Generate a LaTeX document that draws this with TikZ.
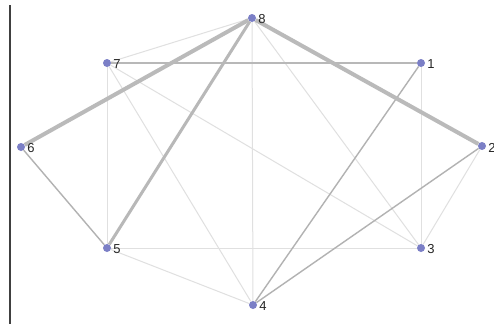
\documentclass[tikz,border=0pt]{standalone}
\usepackage{fontspec}
\setmainfont{Liberation Sans}
\usetikzlibrary{backgrounds}
\begin{document}
\begin{tikzpicture}[x=1pt,y=-1pt,
  vtx/.style={circle,fill=vblue,inner sep=0pt,minimum size=8pt,
    label={[lbl]east:#1}},
  lbl/.style={font=\fontsize{13}{13}\selectfont,text=black!85,inner sep=0pt,label distance=2pt,yshift=-1.5pt},
  faint/.style={draw=black!12,line width=1pt},
  mid/.style={draw=black!30,line width=1.4pt},
  med/.style={draw=black!28,line width=2.2pt},
  thick3/.style={draw=black!28,line width=3pt},
  thick4/.style={draw=black!27,line width=4pt}]
\definecolor{vblue}{HTML}{7B7FC6}
\useasboundingbox (0,0) rectangle (494,324);
\coordinate (lt) at (10,5);
\coordinate (lb) at (10,324);
\node[vtx=8] (n8) at (252,18) {};
\node[vtx=7] (n7) at (107,63) {};
\node[vtx=1] (n1) at (421,63) {};
\node[vtx=6] (n6) at (21,147) {};
\node[vtx=2] (n2) at (482,146) {};
\node[vtx=5] (n5) at (107,248) {};
\node[vtx=3] (n3) at (421,248) {};
\node[vtx=4] (n4) at (253,305) {};
\begin{scope}[on background layer]
\fill[white] (0,0) rectangle (494,324);
\draw[black!75,line width=1.3pt] (lt) -- (lb);
\path[faint] (n8) -- (n7);
\path[faint] (n8) -- (n4);
\path[faint] (n8) -- (n3);
\path[faint] (n7) -- (n5);
\path[faint] (n7) -- (n4);
\path[faint] (n7) -- (n3);
\path[faint] (n1) -- (n3);
\path[faint] (n2) -- (n3);
\path[faint] (n5) -- (n3);
\path[faint] (n5) -- (n4);
\path[mid] (n1) -- (n4);
\path[mid] (n2) -- (n4);
\path[mid] (n6) -- (n5);
\path[med] (n7) -- (n1);
\path[thick3] (n8) -- (n5);
\path[thick4] (n8) -- (n6);
\path[thick4] (n8) -- (n2);
\end{scope}
\end{tikzpicture}
\end{document}
